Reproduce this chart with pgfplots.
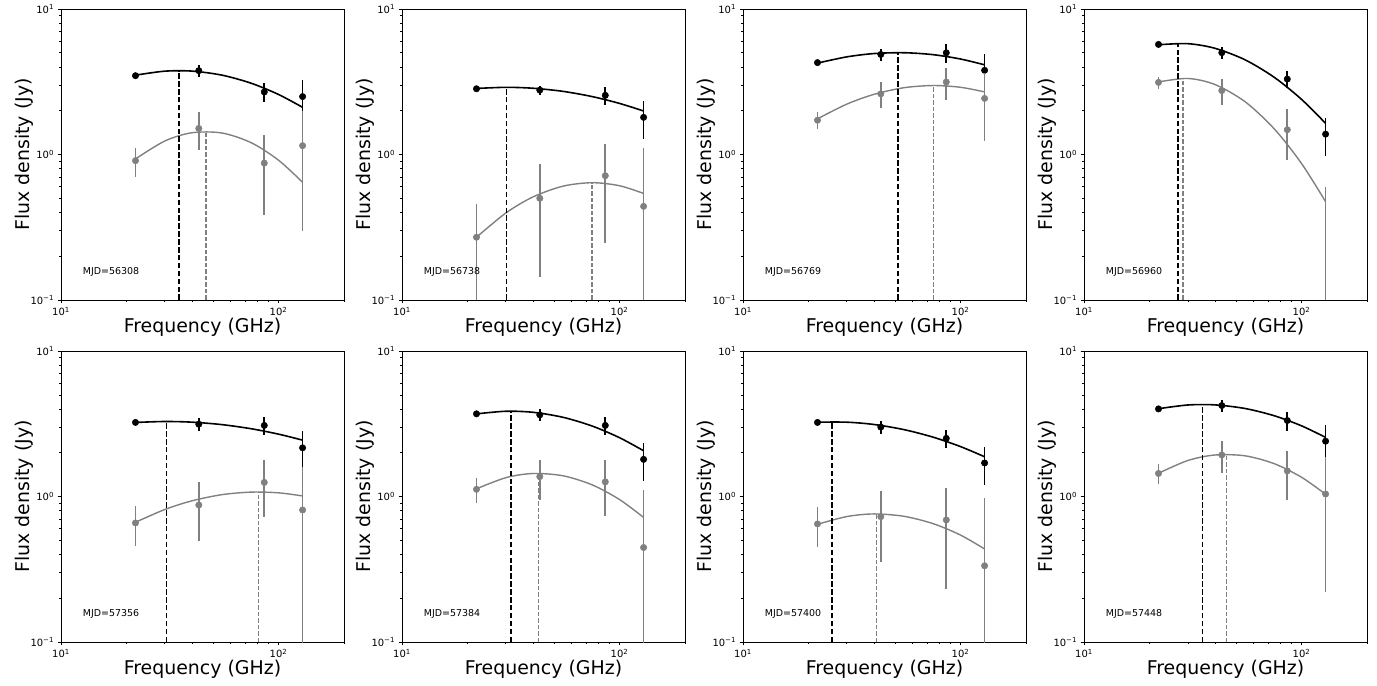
\documentclass[border=0pt]{standalone}
\usepackage{fontspec}
\setmainfont{DejaVu Sans}
\usepackage{pgfplots}
\pgfplotsset{compat=1.18}
\definecolor{mplgray}{HTML}{808080}
\pgfplotsset{
 every axis/.append style={
  xmin=10, xmax=200, ymin=0.1, ymax=10,
  scale only axis, width=283bp, height=291bp,
  axis line style={line width=0.8bp},
  tick align=outside, xtick pos=left, ytick pos=left,
  major tick length=3.5bp, minor tick length=2bp,
  every tick/.append style={black, line width=0.8bp},
  every minor tick/.append style={line width=0.6bp},
  xtick={10,100}, xticklabels={10\textsuperscript{1},10\textsuperscript{2}},
  ytick={0.1,1,10}, yticklabels={10\textsuperscript{−1},10\textsuperscript{0},10\textsuperscript{1}},
  minor xtick={20,30,40,50,60,70,80,90,200},
  minor ytick={0.2,0.3,0.4,0.5,0.6,0.7,0.8,0.9,2,3,4,5,6,7,8,9},
  tick label style={font=\fontsize{10}{12}\selectfont},
  xlabel={Frequency (GHz)}, ylabel={Flux density (Jy)},
  label style={font=\fontsize{19}{22}\selectfont},
  xlabel style={at={(axis description cs:0.5,-0.093)}, anchor=center},
  ylabel style={at={(axis description cs:-0.13,0.5)}, anchor=center},
  clip marker paths=true,
 },
 bpts/.style={only marks, mark=*, mark size=3.2bp, black, mark options={fill=black, draw=black, line width=0.5bp},
   error bars/y dir=both, error bars/y explicit, error bars/error mark=none,
   error bars/error bar style={line width=1.7bp, black}},
 gpts/.style={only marks, mark=*, mark size=3.2bp, mplgray, mark options={fill=mplgray, draw=mplgray, line width=0.5bp},
   error bars/y dir=both, error bars/y explicit, error bars/error mark=none,
   error bars/error bar style={line width=1.7bp, mplgray}},
 bfit/.style={black, line width=1.6bp, smooth, mark=none},
 gfit/.style={mplgray, line width=1.4bp, smooth, mark=none},
 bdash/.style={black, line width=1.5bp, mark=none, dash pattern=on 5.5bp off 2.4bp},
 gdash/.style={mplgray, line width=1.4bp, mark=none, dash pattern=on 4.5bp off 2bp},
}
\tikzset{mjd/.style={anchor=west, font=\fontsize{9.5}{11}\selectfont}}
\begin{document}
\begin{tikzpicture}
\path[use as bounding box] (0,0) rectangle (1377bp,686bp);

% ---------- Panel 1: MJD=56308
\begin{loglogaxis}[at={(61bp,386bp)}, anchor=south west]
\addplot[bpts] coordinates {(22,3.48) +- (0,0.08) (43,3.77) +- (0,0.35) (86,2.69) +- (0,0.40) (129,2.50) +- (0,0.75)};
\addplot[gpts] coordinates {(22,0.907) +- (0,0.21) (43,1.51) +- (0,0.44) (86,0.873) +- (0,0.49) (129,1.15) +- (0,0.85)};
\addplot[bfit] coordinates {(22,3.509) (30,3.739) (40,3.743) (55,3.510) (75,3.087) (100,2.585) (129,2.110)};
\addplot[gfit] coordinates {(22,0.932) (30,1.238) (40,1.411) (55,1.405) (75,1.204) (100,0.914) (129,0.644)};
\addplot[bdash] coordinates {(34.8,0.1) (34.8,3.77)};
\addplot[gdash] coordinates {(46.5,0.1) (46.5,1.435)};
\node[mjd] at (axis description cs:0.065,0.096) {MJD=56308};
\end{loglogaxis}

% ---------- Panel 2: MJD=56738
\begin{loglogaxis}[at={(402bp,386bp)}, anchor=south west]
\addplot[bpts] coordinates {(22,2.83) +- (0,0.08) (43,2.77) +- (0,0.20) (86,2.55) +- (0,0.37) (129,1.80) +- (0,0.53)};
\addplot[gpts] coordinates {(22,0.27) +- (0,0.19) (43,0.50) +- (0,0.355) (86,0.715) +- (0,0.47) (129,0.44) += (0,0.67) -= (0,0.43)};
\addplot[bfit] coordinates {(22,2.844) (30,2.895) (40,2.854) (55,2.716) (75,2.499) (100,2.244) (129,1.991)};
\addplot[gfit] coordinates {(22,0.270) (30,0.396) (40,0.511) (55,0.606) (75,0.640) (100,0.610) (129,0.540)};
\addplot[bdash] coordinates {(30.2,0.1) (30.2,2.895)};
\addplot[gdash] coordinates {(74.8,0.1) (74.8,0.64)};
\node[mjd] at (axis description cs:0.065,0.096) {MJD=56738};
\end{loglogaxis}

% ---------- Panel 3: MJD=56769
\begin{loglogaxis}[at={(743bp,386bp)}, anchor=south west]
\addplot[bpts] coordinates {(22,4.28) +- (0,0.10) (43,4.87) +- (0,0.45) (86,5.00) +- (0,0.72) (129,3.79) +- (0,1.10)};
\addplot[gpts] coordinates {(22,1.72) +- (0,0.23) (43,2.61) +- (0,0.53) (86,3.15) +- (0,0.78) (129,2.43) +- (0,1.20)};
\addplot[bfit] coordinates {(22,4.247) (30,4.688) (40,4.940) (55,5.006) (75,4.853) (100,4.531) (129,4.133)};
\addplot[gfit] coordinates {(22,1.759) (30,2.219) (40,2.591) (55,2.878) (75,2.979) (100,2.897) (129,2.693)};
\addplot[bdash] coordinates {(51.5,0.1) (51.5,5.01)};
\addplot[gdash] coordinates {(75.3,0.1) (75.3,2.98)};
\node[mjd] at (axis description cs:0.065,0.096) {MJD=56769};
\end{loglogaxis}

% ---------- Panel 4: MJD=56960
\begin{loglogaxis}[at={(1084bp,386bp)}, anchor=south west]
\addplot[bpts] coordinates {(22,5.71) +- (0,0.10) (43,5.01) +- (0,0.45) (86,3.30) +- (0,0.45) (129,1.38) +- (0,0.40)};
\addplot[gpts] coordinates {(22,3.13) +- (0,0.30) (43,2.75) +- (0,0.55) (86,1.48) +- (0,0.56) (129,0.05) += (0,0.55) -= (0,0.04)};
\addplot[bfit] coordinates {(22,5.678) (30,5.777) (40,5.368) (55,4.475) (75,3.388) (100,2.392) (129,1.637)};
\addplot[gfit] coordinates {(22,3.152) (30,3.331) (40,3.026) (55,2.306) (75,1.498) (100,0.867) (129,0.474)};
\addplot[bdash] coordinates {(27.1,0.1) (27.1,5.81)};
\addplot[gdash] coordinates {(28.5,0.1) (28.5,3.34)};
\node[mjd] at (axis description cs:0.065,0.096) {MJD=56960};
\end{loglogaxis}

% ---------- Panel 5: MJD=57356
\begin{loglogaxis}[at={(61bp,44bp)}, anchor=south west]
\addplot[bpts] coordinates {(22,3.23) +- (0,0.08) (43,3.14) +- (0,0.30) (86,3.08) +- (0,0.45) (129,2.16) +- (0,0.64)};
\addplot[gpts] coordinates {(22,0.658) +- (0,0.20) (43,0.874) +- (0,0.38) (86,1.25) +- (0,0.53) (129,0.808) +- (0,0.78)};
\addplot[bfit] coordinates {(22,3.228) (30,3.277) (40,3.243) (55,3.119) (75,2.921) (100,2.683) (129,2.440)};
\addplot[gfit] coordinates {(22,0.665) (30,0.814) (40,0.934) (55,1.030) (75,1.072) (100,1.060) (129,1.009)};
\addplot[bdash] coordinates {(30.5,0.1) (30.5,3.28)};
\addplot[gdash] coordinates {(80.7,0.1) (80.7,1.074)};
\node[mjd] at (axis description cs:0.065,0.096) {MJD=57356};
\end{loglogaxis}

% ---------- Panel 6: MJD=57384
\begin{loglogaxis}[at={(402bp,44bp)}, anchor=south west]
\addplot[bpts] coordinates {(22,3.70) +- (0,0.08) (43,3.64) +- (0,0.35) (86,3.08) +- (0,0.45) (129,1.80) +- (0,0.53)};
\addplot[gpts] coordinates {(22,1.12) +- (0,0.22) (43,1.37) +- (0,0.42) (86,1.26) +- (0,0.53) (129,0.446) += (0,0.67) -= (0,0.44)};
\addplot[bfit] coordinates {(22,3.698) (30,3.854) (40,3.792) (55,3.502) (75,3.047) (100,2.536) (129,2.063)};
\addplot[gfit] coordinates {(22,1.129) (30,1.347) (40,1.439) (55,1.388) (75,1.201) (100,0.953) (129,0.718)};
\addplot[bdash] coordinates {(31.7,0.1) (31.7,3.86)};
\addplot[gdash] coordinates {(42.5,0.1) (42.5,1.44)};
\node[mjd] at (axis description cs:0.065,0.096) {MJD=57384};
\end{loglogaxis}

% ---------- Panel 7: MJD=57400
\begin{loglogaxis}[at={(743bp,44bp)}, anchor=south west]
\addplot[bpts] coordinates {(22,3.23) +- (0,0.08) (43,3.00) +- (0,0.30) (86,2.51) +- (0,0.37) (129,1.70) +- (0,0.50)};
\addplot[gpts] coordinates {(22,0.648) +- (0,0.20) (43,0.727) +- (0,0.37) (86,0.69) +- (0,0.46) (129,0.334) += (0,0.65) -= (0,0.33)};
\addplot[bfit] coordinates {(22,3.243) (30,3.242) (40,3.126) (55,2.881) (75,2.555) (100,2.203) (129,1.876)};
\addplot[gfit] coordinates {(22,0.644) (30,0.728) (40,0.759) (55,0.731) (75,0.650) (100,0.543) (129,0.436)};
\addplot[bdash] coordinates {(25.6,0.1) (25.6,3.26)};
\addplot[gdash] coordinates {(41,0.1) (41,0.759)};
\node[mjd] at (axis description cs:0.065,0.096) {MJD=57400};
\end{loglogaxis}

% ---------- Panel 8: MJD=57448
\begin{loglogaxis}[at={(1084bp,44bp)}, anchor=south west]
\addplot[bpts] coordinates {(22,4.00) +- (0,0.08) (43,4.22) +- (0,0.40) (86,3.33) +- (0,0.50) (129,2.40) +- (0,0.70)};
\addplot[gpts] coordinates {(22,1.44) +- (0,0.23) (43,1.93) +- (0,0.47) (86,1.50) +- (0,0.56) (129,1.04) +- (0,0.82)};
\addplot[bfit] coordinates {(22,4.012) (30,4.255) (40,4.263) (55,4.026) (75,3.588) (100,3.060) (129,2.548)};
\addplot[gfit] coordinates {(22,1.445) (30,1.767) (40,1.929) (55,1.904) (75,1.680) (100,1.356) (129,1.036)};
\addplot[bdash] coordinates {(35,0.1) (35,4.29)};
\addplot[gdash] coordinates {(45.2,0.1) (45.2,1.95)};
\node[mjd] at (axis description cs:0.065,0.096) {MJD=57448};
\end{loglogaxis}
\end{tikzpicture}
\end{document}
